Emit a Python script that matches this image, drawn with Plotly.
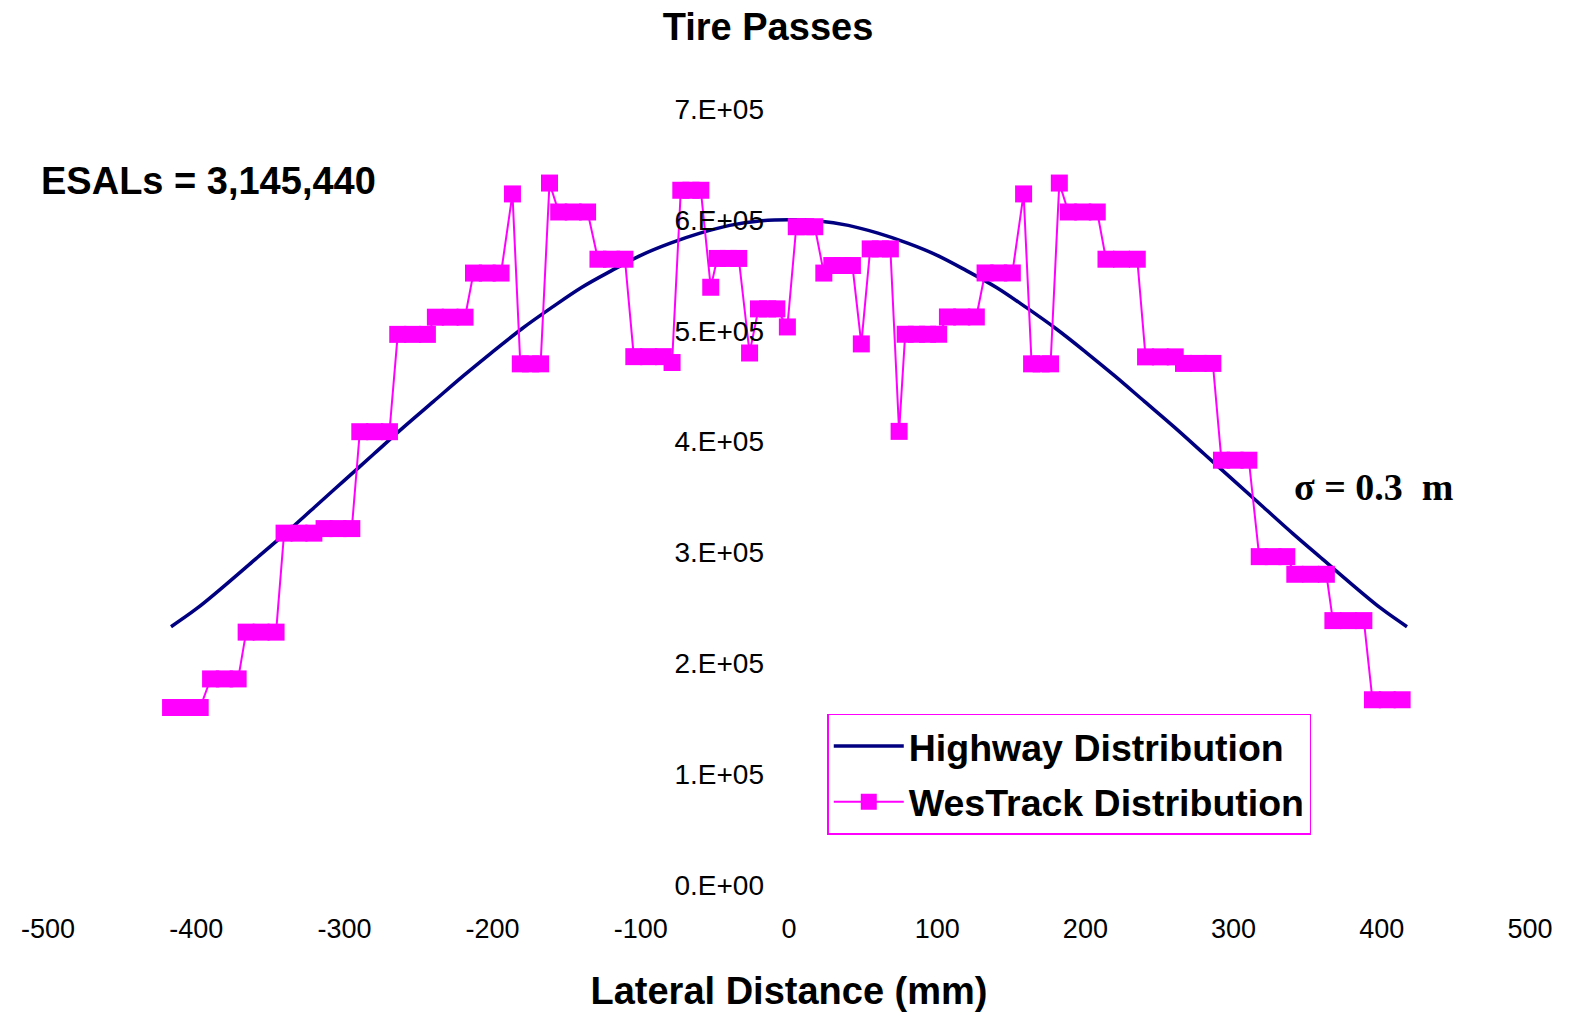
import plotly.graph_objects as go

# ---- data ----
highway_x = [-417, -400, -380, -360, -340, -320, -300, -280, -260, -240, -220, -200,
             -180, -160, -140, -120, -100, -80, -60, -40, -20, 0,
             20, 40, 60, 80, 100, 120, 140, 160, 180, 200, 220, 240, 260, 280,
             300, 320, 340, 360, 380, 400, 417]
highway_y = [233000, 249000, 271000, 294000, 317000, 341000, 365000, 389000, 413000, 436000,
             459000, 481000, 502000, 521000, 539000, 554000, 568000, 579000, 588000, 595000,
             599000, 600000,
             599000, 595000, 588000, 579000, 568000, 554000, 539000, 521000, 502000, 481000,
             459000, 436000, 413000, 389000, 365000, 341000, 317000, 294000, 271000, 249000, 233000]

westrack_x = [-417.3, -407.3, -397.3,
              -390.3, -381.0, -371.7,
              -366.3, -356.2, -346.1,
              -340.7, -330.6, -320.6,
              -313.7, -304.3, -295.0,
              -289.6, -279.6, -269.6,
              -264.0, -254.0, -244.0,
              -238.6, -228.6, -218.6,
              -212.9, -203.6, -194.3,
              -186.6,
              -181.3, -174.4, -167.6,
              -161.6,
              -155.4, -145.6, -135.9,
              -128.9, -119.8, -110.7,
              -104.7, -94.7, -84.8,
              -78.9,
              -73.0, -66.2, -59.5,
              -52.8,
              -48.4, -41.1, -33.9,
              -26.6,
              -20.6, -14.4, -8.2,
              -1.1,
              4.9, 11.1, 17.4,
              23.5,
              28.9, 35.8, 42.8,
              48.8,
              54.8, 61.6, 68.4,
              74.3,
              78.4, 86.0, 93.5, 101.0,
              106.9, 116.6, 126.4,
              132.3, 141.5, 150.7,
              158.3,
              163.7, 170.1, 176.5,
              182.4,
              188.5, 198.2, 208.0,
              213.9, 224.4, 235.0,
              240.6, 250.6, 260.6,
              266.2, 276.1, 286.0,
              291.8, 301.0, 310.3,
              317.3, 326.6, 335.9,
              341.3, 352.0, 362.6,
              367.0, 377.4, 387.9,
              393.7, 403.7, 413.7]
westrack_y = [160100, 160100, 160100,
              185900, 185900, 185900,
              228100, 228100, 228100,
              317400, 317400, 317400,
              321500, 321500, 321500,
              408900, 408900, 408900,
              496700, 496700, 496700,
              512200, 512200, 512200,
              552000, 552000, 552000,
              623400,
              470100, 470100, 470100,
              633200,
              607100, 607100, 607100,
              564500, 564500, 564500,
              476600, 476600, 476600,
              471300,
              626700, 626700, 626700,
              539200,
              565200, 565200, 565200,
              479900,
              519700, 519700, 519700,
              503400,
              593800, 593800, 593800,
              552000,
              558800, 558800, 558800,
              488100,
              573800, 573800, 573800,
              409200,
              496800, 496800, 496800, 496800,
              512400, 512400, 512400,
              552100, 552100, 552100,
              623400,
              470100, 470100, 470100,
              633200,
              607100, 607100, 607100,
              564500, 564500, 564500,
              476400, 476400, 476400,
              470500, 470500, 470500,
              383200, 383200, 383200,
              296200, 296200, 296200,
              280300, 280300, 280300,
              238500, 238500, 238500,
              167100, 167100, 167100]

x_tickvals = [-500, -400, -300, -200, -100, 0, 100, 200, 300, 400, 500]
x_ticktext = ["-500", "-400", "-300", "-200", "-100", "0", "100", "200", "300", "400", "500"]
y_tickvals = [0, 100000, 200000, 300000, 400000, 500000, 600000, 700000]
y_ticktext = ["0.E+00", "1.E+05", "2.E+05", "3.E+05", "4.E+05", "5.E+05", "6.E+05", "7.E+05"]

FONT = "Liberation Sans, Arial, sans-serif"

fig = go.Figure()
fig.add_trace(go.Scatter(
    x=highway_x, y=highway_y, mode="lines", name="Highway Distribution",
    legendgroup="hw",
    line=dict(color="#000080", width=3.5, shape="spline"),
))
fig.add_trace(go.Scatter(
    x=westrack_x, y=westrack_y, mode="lines+markers", name="WesTrack Distribution",
    legendgroup="wt",
    line=dict(color="#FF00FF", width=2),
    marker=dict(symbol="square", size=17, color="#FF00FF", line=dict(width=0)),
))

fig.update_layout(
    width=1572, height=1012,
    margin=dict(l=47.5, r=41.5, t=109, b=126.5, autoexpand=False),
    plot_bgcolor="white", paper_bgcolor="white",
    font=dict(family=FONT, color="black"),
    title=dict(text="Tire Passes", font=dict(size=38, weight="bold", family=FONT),
               x=768 / 1572, xanchor="center", xref="container",
               y=1 - 27 / 1012, yanchor="middle", yref="container"),
    xaxis=dict(range=[-500, 500], tickvals=x_tickvals, ticktext=x_ticktext,
               showgrid=False, zeroline=False,
               showline=False, ticks="", tickfont=dict(size=27), ticklabelstandoff=25,
               title=dict(text="Lateral Distance (mm)", font=dict(size=38, weight="bold"),
                          standoff=34)),
    yaxis=dict(range=[0, 700000], tickvals=y_tickvals, ticktext=y_ticktext,
               anchor="free", position=0.5, side="left",
               showgrid=False, zeroline=False, showline=False, ticks="",
               tickfont=dict(size=28), ticklabelstandoff=25),
    legend=dict(x=(827.3 - 47.5) / 1483, y=(885.5 - 714) / 776.3, xanchor="left", yanchor="top",
                bordercolor="#FF00FF", borderwidth=1.5, bgcolor="white",
                itemwidth=70, tracegroupgap=4, traceorder="grouped",
                font=dict(size=37.5, weight="bold")),
    showlegend=True,
    annotations=[
        dict(text="ESALs = 3,145,440", xref="paper", yref="paper",
             x=(38 - 47.5) / 1483, y=(885.5 - 181) / 776.3, xanchor="left", yanchor="middle",
             showarrow=False, font=dict(size=38, weight="bold")),
        dict(text="σ = 0.3  m", xref="paper", yref="paper",
             x=(1292 - 47.5) / 1483, y=(885.5 - 487.5) / 776.3, xanchor="left", yanchor="middle",
             showarrow=False, font=dict(size=38, weight="bold",
                                        family="Liberation Serif, Times New Roman, serif")),
    ],
)

fig.write_html("out.html")
